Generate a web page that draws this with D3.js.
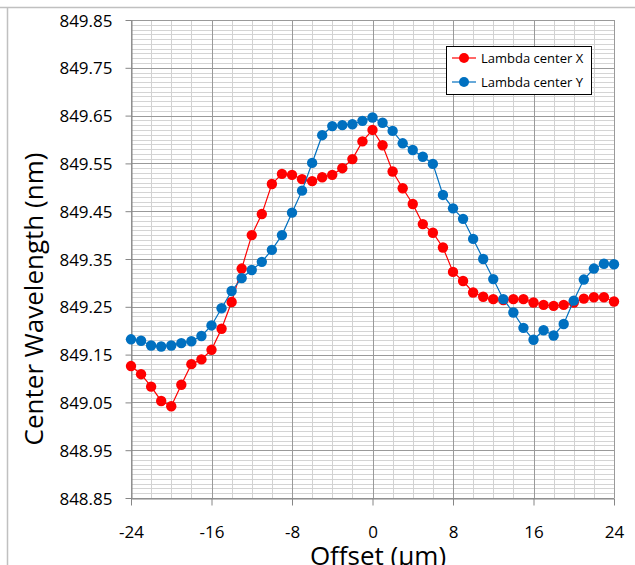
<!DOCTYPE html>
<html>
<head>
<meta charset="utf-8">
<script src="https://cdn.jsdelivr.net/npm/d3@7/dist/d3.min.js"></script>
<style>
  html, body { margin: 0; padding: 0; background: #fff; }
  svg { display: block; font-family: "Open Sans", "Noto Sans", sans-serif; }
</style>
</head>
<body>
<svg id="chart" width="635" height="565"></svg>
<script>
// ---- data ----
const offsets = [-24,-23,-22,-21,-20,-19,-18,-17,-16,-15,-14,-13,-12,-11,-10,-9,-8,-7,-6,-5,-4,-3,-2,-1,0,
                 1,2,3,4,5,6,7,8,9,10,11,12,13,14,15,16,17,18,19,20,21,22,23,24];
const lambdaX = [849.126,849.109,849.083,849.053,849.042,849.087,849.130,849.140,849.160,849.204,849.260,849.330,
                 849.400,849.444,849.507,849.528,849.526,849.517,849.513,849.521,849.526,849.540,849.559,849.596,849.620,
                 849.588,849.533,849.498,849.465,849.423,849.405,849.374,849.323,849.304,849.280,849.271,849.266,
                 849.264,849.266,849.266,849.259,849.254,849.252,849.254,849.259,849.267,849.270,849.270,849.261];
const lambdaY = [849.182,849.179,849.169,849.167,849.169,849.174,849.178,849.189,849.211,849.247,849.283,849.310,
                 849.327,849.344,849.369,849.400,849.447,849.493,849.551,849.609,849.628,849.630,849.632,849.639,849.646,
                 849.635,849.618,849.592,849.578,849.564,849.549,849.484,849.456,849.434,849.392,849.350,849.308,
                 849.266,849.238,849.206,849.181,849.201,849.190,849.214,849.263,849.307,849.330,849.340,849.339];
const xTicks = [-24,-16,-8,0,8,16,24];
const yTicks = [848.85,848.95,849.05,849.15,849.25,849.35,849.45,849.55,849.65,849.75,849.85];
const seriesNames = ["Lambda center X","Lambda center Y"];
const seriesColors = ["#ff0000","#0070c0"];
const xTitle = "Offset (\u00b5m)";
const yTitle = "Center Wavelength (nm)";

// ---- layout ----
const svg = d3.select("#chart");
const L = 131, R = 614, T = 20, B = 498;
const x = d3.scaleLinear().domain([-24, 24]).range([L, R]);
const y = d3.scaleLinear().domain([848.85, 849.85]).range([B, T]);
const crisp = v => Math.round(v) + 0.5;

// outer chart frame (partially visible)
svg.append("line").attr("x1", 0).attr("x2", 635).attr("y1", 7.5).attr("y2", 7.5)
  .attr("stroke", "#c0c0c0").attr("stroke-width", 1.5);
svg.append("line").attr("x1", 7.5).attr("x2", 7.5).attr("y1", 7).attr("y2", 565)
  .attr("stroke", "#c0c0c0").attr("stroke-width", 1.5);

const grid = svg.append("g");
// minor horizontal gridlines every 0.01
const minorY = d3.range(0, 101).map(i => 848.85 + i * 0.01);
grid.selectAll(".hmin").data(minorY).join("line")
  .attr("x1", L).attr("x2", R)
  .attr("y1", d => crisp(y(d))).attr("y2", d => crisp(y(d)))
  .attr("stroke", "#d4d4d4").attr("stroke-width", 1);
// minor vertical gridlines every 2
const minorX = d3.range(0, 25).map(i => -24 + i * 2);
grid.selectAll(".vmin").data(minorX).join("line")
  .attr("y1", T).attr("y2", B)
  .attr("x1", d => crisp(x(d))).attr("x2", d => crisp(x(d)))
  .attr("stroke", "#d2d2d2").attr("stroke-width", 1);
// major gridlines
grid.selectAll(".hmaj").data(yTicks).join("line")
  .attr("x1", L).attr("x2", R)
  .attr("y1", d => crisp(y(d))).attr("y2", d => crisp(y(d)))
  .attr("stroke", "#9a9a9a").attr("stroke-width", 1);
grid.selectAll(".vmaj").data(xTicks).join("line")
  .attr("y1", T).attr("y2", B)
  .attr("x1", d => crisp(x(d))).attr("x2", d => crisp(x(d)))
  .attr("stroke", "#9a9a9a").attr("stroke-width", 1);

// axes
const yAxis = svg.append("g").attr("transform", `translate(${crisp(L)},0)`)
  .call(d3.axisLeft(y).tickValues(yTicks).tickFormat(d3.format(".2f")).tickSize(6).tickSizeOuter(0).tickPadding(13));
const xAxis = svg.append("g").attr("transform", `translate(0,${crisp(B)})`)
  .call(d3.axisBottom(x).tickValues(xTicks).tickFormat(d => String(d)).tickSize(7).tickSizeOuter(0).tickPadding(20));
[yAxis, xAxis].forEach(a => {
  a.select(".domain").attr("stroke", "#868686");
  a.selectAll(".tick line").attr("stroke", "#868686");
  a.selectAll(".tick text").attr("fill", "#000").style("font-size", "17px")
    .style("font-family", "'Open Sans', sans-serif");
});
yAxis.selectAll(".tick text").attr("dy", "0.36em");

// axis titles
svg.append("text").attr("transform", `translate(43,${(T + B) / 2 + 40}) rotate(-90)`)
  .attr("text-anchor", "middle").style("font-size", "26px").attr("fill", "#000").text(yTitle);
svg.append("text").attr("x", 378).attr("y", 565)
  .attr("text-anchor", "middle").style("font-size", "26px").attr("fill", "#000").text(xTitle);

// series
const seriesData = [lambdaX, lambdaY];
const line = d3.line().x((d, i) => x(offsets[i])).y(d => y(d));
seriesData.forEach((vals, s) => {
  const g = svg.append("g");
  g.append("path").datum(vals).attr("d", line)
    .attr("fill", "none").attr("stroke", seriesColors[s]).attr("stroke-width", 1.2);
  g.selectAll("circle").data(vals).join("circle")
    .attr("cx", (d, i) => x(offsets[i])).attr("cy", d => y(d)).attr("r", 5.2)
    .attr("fill", seriesColors[s]);
});

// legend
const lg = svg.append("g").attr("transform", "translate(446,46)");
lg.append("rect").attr("x", 0.5).attr("y", 0.5).attr("width", 145).attr("height", 48)
  .attr("fill", "#fff").attr("stroke", "#000").attr("stroke-width", 1);
seriesNames.forEach((name, i) => {
  const cy = 12 + i * 24;
  lg.append("line").attr("x1", 6).attr("x2", 30).attr("y1", cy).attr("y2", cy)
    .attr("stroke", seriesColors[i]).attr("stroke-width", 1.2);
  lg.append("circle").attr("cx", 18).attr("cy", cy).attr("r", 5).attr("fill", seriesColors[i]);
  lg.append("text").attr("x", 35).attr("y", cy).attr("dy", "0.36em")
    .style("font-size", "13px").attr("fill", "#000").text(name);
});
</script>
</body>
</html>
